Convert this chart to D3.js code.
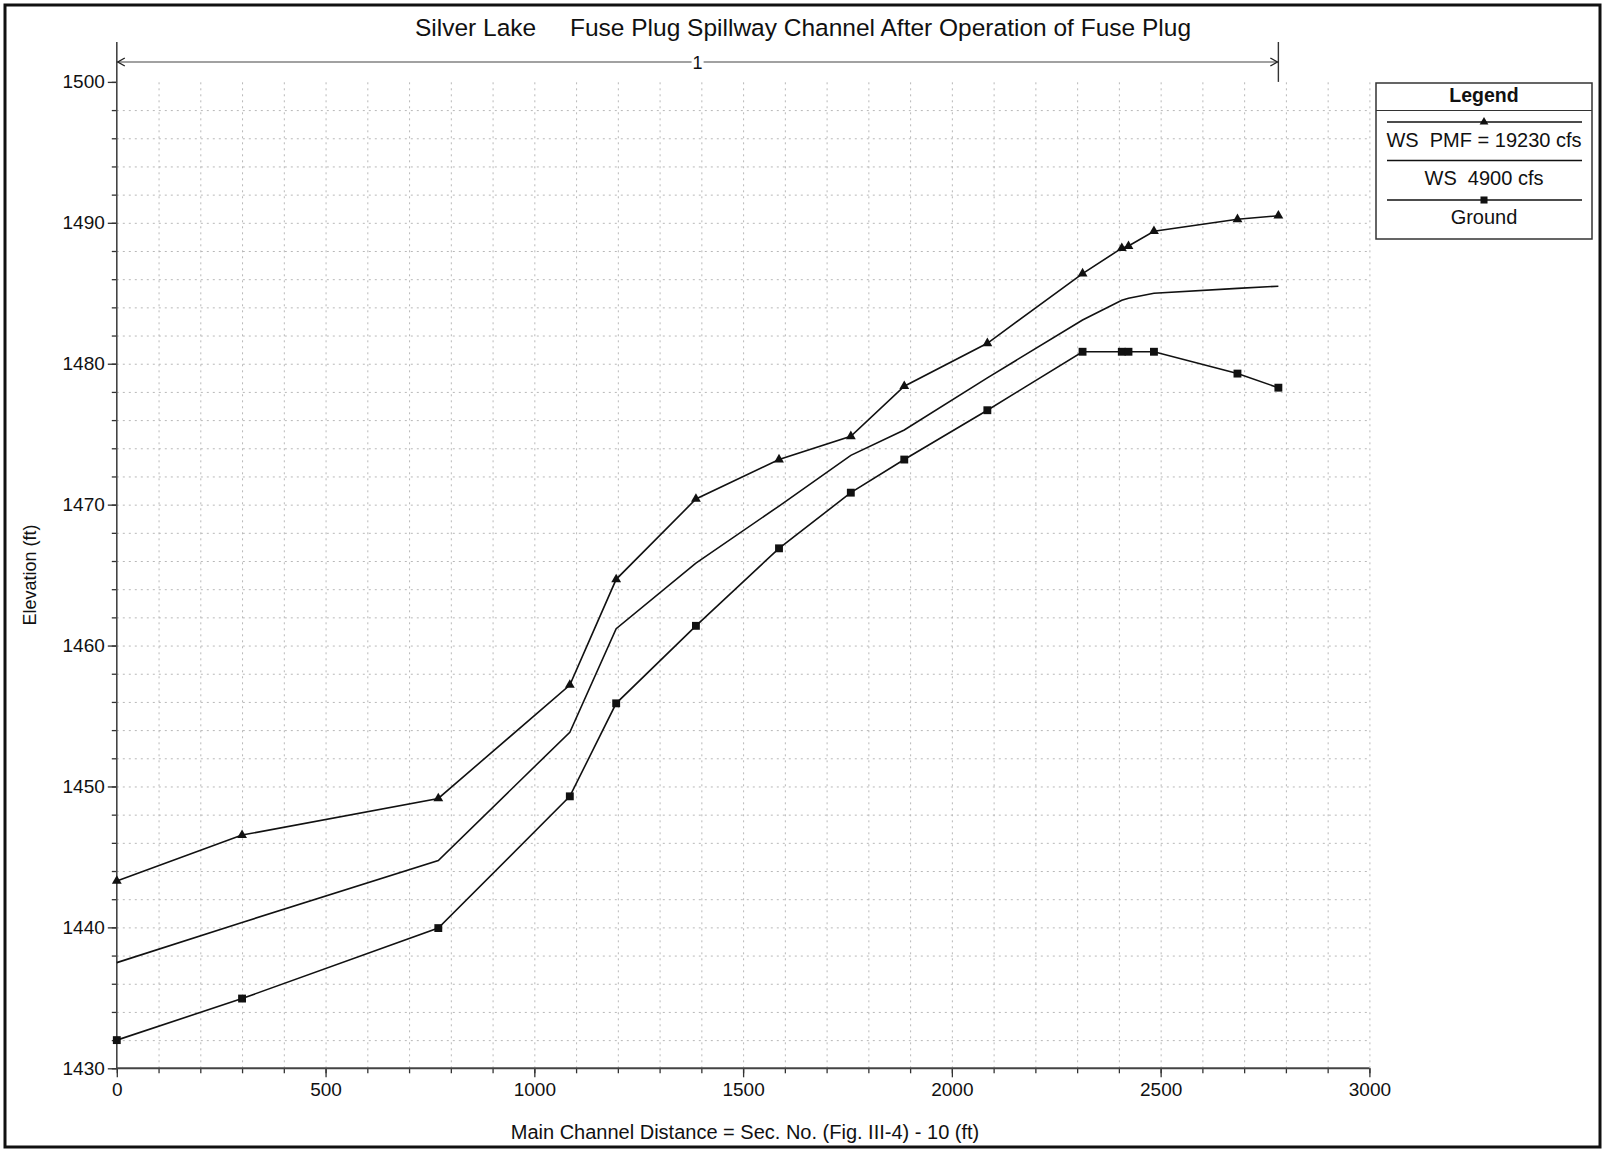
<!DOCTYPE html>
<html><head><meta charset="utf-8">
<script src="https://cdn.jsdelivr.net/npm/d3@7"></script>
<style>
body{margin:0;background:#fff}
text{font-family:"Liberation Sans",Arial,sans-serif;fill:#111}
</style>
</head><body>
<svg id="c" width="1606" height="1150"></svg>
<script>
// ---- data ----
const distance = [0, 300, 770, 1085, 1196, 1387, 1586, 1758, 1886, 2085, 2313, 2407, 2423, 2484, 2684, 2782];
const wsPMF   = [1443.3, 1446.55, 1449.15, 1457.2, 1464.7, 1470.4, 1473.2, 1474.85, 1478.4, 1481.45, 1486.4, 1488.2, 1488.35, 1489.4, 1490.25, 1490.5];
const ws4900  = [1437.5, 1440.35, 1444.75, 1453.85, 1461.2, 1465.85, 1469.9, 1473.5, 1475.3, 1479.0, 1483.1, 1484.5, 1484.65, 1485.0, 1485.35, 1485.5];
const ground  = [1432.0, 1434.95, 1439.95, 1449.3, 1455.9, 1461.4, 1466.9, 1470.85, 1473.2, 1476.7, 1480.85, 1480.85, 1480.85, 1480.85, 1479.3, 1478.3];
const seriesNames = ["WS  PMF = 19230 cfs", "WS  4900 cfs", "Ground"];
const xTicks = [0, 500, 1000, 1500, 2000, 2500, 3000];
const yTicks = [1430, 1440, 1450, 1460, 1470, 1480, 1490, 1500];
const reachLabel = "1";
const titleLeft = "Silver Lake";
const titleRight = "Fuse Plug Spillway Channel After Operation of Fuse Plug";
const xTitle = "Main Channel Distance = Sec. No. (Fig. III-4) - 10 (ft)";
const yTitle = "Elevation (ft)";

const svg = d3.select("#c");
const x = d3.scaleLinear().domain([0, 3000]).range([116.8, 1369.4]);
const y = d3.scaleLinear().domain([1430, 1500]).range([1068.3, 81.9]);
const ink = "#111";

// outer frame
svg.append("rect").attr("x", 5).attr("y", 5).attr("width", 1595).attr("height", 1142)
  .attr("fill", "none").attr("stroke", ink).attr("stroke-width", 3);

// grid
const gx = svg.append("g").attr("transform", `translate(0,${y(1430)})`)
  .call(d3.axisBottom(x).tickValues(d3.range(100, 3001, 100)).tickSize(-(y(1430) - y(1500))).tickFormat(""));
const gy = svg.append("g").attr("transform", `translate(${x(0)},0)`)
  .call(d3.axisLeft(y).tickValues(d3.range(1432, 1499, 2)).tickSize(-(x(3000) - x(0))).tickFormat(""));
[gx, gy].forEach(g => {
  g.select(".domain").remove();
  g.selectAll("line").attr("stroke", "#b8b8b8").attr("stroke-dasharray", "2,4").attr("stroke-width", 1);
});

// axes
const axX = svg.append("g").attr("transform", `translate(0,${y(1430)})`)
  .call(d3.axisBottom(x).tickValues(xTicks).tickSize(9).tickPadding(5).tickFormat(d3.format("d")));
const axXm = svg.append("g").attr("transform", `translate(0,${y(1430)})`)
  .call(d3.axisBottom(x).tickValues(d3.range(0, 3001, 100)).tickSize(5).tickFormat(""));
const axY = svg.append("g").attr("transform", `translate(${x(0)},0)`)
  .call(d3.axisLeft(y).tickValues(yTicks).tickSize(9).tickPadding(3).tickFormat(d3.format("d")));
const axYm = svg.append("g").attr("transform", `translate(${x(0)},0)`)
  .call(d3.axisLeft(y).tickValues(d3.range(1430, 1501, 2)).tickSize(5).tickFormat(""));
[axX, axXm, axY, axYm].forEach(g => {
  g.select(".domain").remove();
  g.selectAll("line").attr("stroke", "#333").attr("stroke-width", 1.3);
  g.selectAll("text").attr("font-size", 19).attr("fill", ink)
    .style("font-family", '"Liberation Sans",Arial,sans-serif');
});
// axis lines
svg.append("line").attr("x1", x(0)).attr("x2", x(3000)).attr("y1", y(1430)).attr("y2", y(1430))
  .attr("stroke", "#444").attr("stroke-width", 2);
svg.append("line").attr("x1", x(0)).attr("x2", x(0)).attr("y1", 42).attr("y2", y(1430))
  .attr("stroke", "#444").attr("stroke-width", 1.6);

// reach annotation
const ry = 62, rx0 = x(0), rx1 = x(distance[distance.length - 1]);
svg.append("line").attr("x1", rx0).attr("x2", rx1).attr("y1", ry).attr("y2", ry).attr("stroke", "#444").attr("stroke-width", 1.2);
svg.append("line").attr("x1", rx1).attr("x2", rx1).attr("y1", 42).attr("y2", y(1500)).attr("stroke", "#333").attr("stroke-width", 1.4);
svg.append("path").attr("d", `M${rx0 + 8},${ry - 4} L${rx0 + 1},${ry} L${rx0 + 8},${ry + 4}`).attr("fill", "none").attr("stroke", "#222").attr("stroke-width", 1.4);
svg.append("path").attr("d", `M${rx1 - 8},${ry - 4} L${rx1 - 1},${ry} L${rx1 - 8},${ry + 4}`).attr("fill", "none").attr("stroke", "#222").attr("stroke-width", 1.4);
const mid = (rx0 + rx1) / 2;
svg.append("rect").attr("x", mid - 6).attr("y", ry - 10).attr("width", 12).attr("height", 20).attr("fill", "#fff");
svg.append("text").attr("x", mid).attr("y", ry + 7).attr("text-anchor", "middle").attr("font-size", 18).text(reachLabel);

// title
svg.append("text").attr("x", 415).attr("y", 36).attr("font-size", 24.5).text(titleLeft);
svg.append("text").attr("x", 570).attr("y", 36).attr("font-size", 24.5).text(titleRight);

// axis titles
svg.append("text").attr("x", 745).attr("y", 1139).attr("text-anchor", "middle").attr("font-size", 20).text(xTitle);
svg.append("text").attr("transform", "translate(36,575) rotate(-90)").attr("text-anchor", "middle").attr("font-size", 18).text(yTitle);

// series
const series = [
  {vals: wsPMF, marker: d3.symbolTriangle, size: 42},
  {vals: ws4900, marker: null},
  {vals: ground, marker: d3.symbolSquare, size: 62}
];
const line = d3.line().x(d => x(d[0])).y(d => y(d[1]));
series.forEach(s => {
  const pts = distance.map((d, i) => [d, s.vals[i]]);
  svg.append("path").attr("d", line(pts)).attr("fill", "none").attr("stroke", ink).attr("stroke-width", 1.6);
  if (s.marker) {
    svg.append("g").selectAll("path").data(pts).join("path")
      .attr("transform", d => `translate(${x(d[0])},${y(d[1])})`)
      .attr("d", d3.symbol(s.marker, s.size)).attr("fill", ink);
  }
});

// legend
const L = {x: 1376, y: 83, w: 216, h: 156};
const lg = svg.append("g");
lg.append("rect").attr("x", L.x).attr("y", L.y).attr("width", L.w).attr("height", L.h).attr("fill", "#fff").attr("stroke", "#333").attr("stroke-width", 1.5);
lg.append("text").attr("x", L.x + L.w / 2).attr("y", 102).attr("text-anchor", "middle").attr("font-size", 19.5).attr("font-weight", "bold").text("Legend");
lg.append("line").attr("x1", L.x).attr("x2", L.x + L.w).attr("y1", 110.5).attr("y2", 110.5).attr("stroke", "#333").attr("stroke-width", 1.2);
const entryY = [122, 160.5, 200];
const textY = [147, 185, 224];
series.forEach((s, i) => {
  lg.append("line").attr("x1", 1387).attr("x2", 1582).attr("y1", entryY[i]).attr("y2", entryY[i]).attr("stroke", ink).attr("stroke-width", 1.4);
  if (s.marker) lg.append("path").attr("transform", `translate(${L.x + L.w / 2},${entryY[i]})`).attr("d", d3.symbol(s.marker, s.size * 0.8)).attr("fill", ink);
  lg.append("text").attr("x", L.x + L.w / 2).attr("y", textY[i]).attr("text-anchor", "middle").attr("font-size", 20)
    .style("white-space", "pre").text(seriesNames[i]);
});
</script>
</body></html>
